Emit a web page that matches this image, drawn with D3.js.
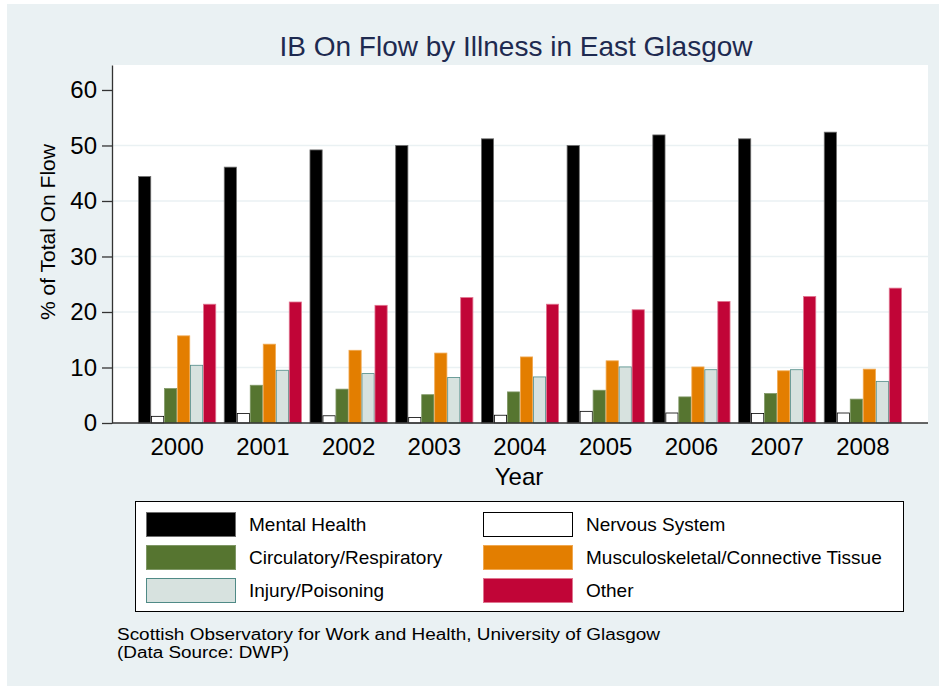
<!DOCTYPE html>
<html>
<head>
<meta charset="utf-8">
<script src="https://cdn.jsdelivr.net/npm/d3@7"></script>
<style>
  body { margin: 0; background: #fff; }
  text { font-family: Arial, "Liberation Sans", sans-serif; }
</style>
</head>
<body>
<div id="chart"></div>
<script>
// data
const years = ["2000", "2001", "2002", "2003", "2004", "2005", "2006", "2007", "2008"];
const seriesNames = ["Mental Health", "Nervous System", "Circulatory/Respiratory",
  "Musculoskeletal/Connective Tissue", "Injury/Poisoning", "Other"];
const mentalHealth   = [44.4, 46.1, 49.2, 50.0, 51.2, 50.0, 51.9, 51.2, 52.4];
const nervousSystem  = [1.2, 1.7, 1.3, 1.0, 1.4, 2.1, 1.8, 1.7, 1.8];
const circulatory    = [6.2, 6.8, 6.1, 5.1, 5.6, 5.9, 4.7, 5.3, 4.3];
const musculo        = [15.7, 14.2, 13.1, 12.6, 11.9, 11.2, 10.1, 9.4, 9.7];
const injury         = [10.4, 9.5, 8.9, 8.2, 8.3, 10.1, 9.6, 9.6, 7.5];
const other          = [21.4, 21.8, 21.2, 22.6, 21.4, 20.4, 21.9, 22.8, 24.3];
const yTicks = [0, 10, 20, 30, 40, 50, 60];

const seriesValues = [mentalHealth, nervousSystem, circulatory, musculo, injury, other];
const fills   = ["#000000", "#ffffff", "#567530", "#e37e00", "#d7e2df", "#c10537"];
const strokes = ["#6e6e6e", "#000000", "#7f9765", "#f0a850", "#4f8a86", "#e07590"];

// legend order (two columns)
const legendOrder = [0, 1, 2, 3, 4, 5];

const W = 939, H = 686;
const plot = {left: 112, right: 928, top: 65, bottom: 423};

const svg = d3.select("#chart").append("svg")
  .attr("width", W)
  .attr("height", H);

// background
svg.append("rect")
  .attr("x", 7).attr("y", 4)
  .attr("width", W - 7).attr("height", H - 4)
  .attr("fill", "#eaf1f3");

svg.append("rect")
  .attr("x", plot.left).attr("y", plot.top)
  .attr("width", plot.right - plot.left).attr("height", plot.bottom - plot.top)
  .attr("fill", "#ffffff");

const y = d3.scaleLinear()
  .domain([0, 64.5])
  .range([plot.bottom, plot.top]);

const x0 = d3.scaleBand()
  .domain(years)
  .range([plot.left, plot.right])
  .paddingInner(0.09)
  .paddingOuter(0.305);

const x1 = d3.scaleBand()
  .domain(d3.range(seriesNames.length))
  .range([0, x0.bandwidth()]);

// grid lines (not at 0 or 60)
svg.append("g")
  .selectAll("line")
  .data(yTicks.filter(t => t > 0 && t < 60))
  .join("line")
    .attr("x1", plot.left).attr("x2", plot.right)
    .attr("y1", d => y(d)).attr("y2", d => y(d))
    .attr("stroke", "#eaf1f3")
    .attr("stroke-width", 1.5);

// bars
const groups = svg.append("g")
  .selectAll("g")
  .data(years)
  .join("g")
    .attr("transform", d => `translate(${x0(d)},0)`);

groups.selectAll("rect")
  .data((yr, i) => seriesValues.map((vals, s) => ({s: s, v: vals[i]})))
  .join("rect")
    .attr("x", d => x1(d.s) + 0.4)
    .attr("width", x1.bandwidth() - 0.8)
    .attr("y", d => y(d.v))
    .attr("height", d => y(0) - y(d.v))
    .attr("fill", d => fills[d.s])
    .attr("stroke", d => strokes[d.s])
    .attr("stroke-width", 0.8);

// y axis
const yAxis = svg.append("g")
  .attr("transform", `translate(${plot.left},0)`)
  .call(d3.axisLeft(y).tickValues(yTicks).tickSize(10).tickPadding(5).tickSizeOuter(0));
yAxis.select(".domain").attr("stroke", "#333").attr("stroke-width", 1.3);
yAxis.selectAll(".tick line").attr("stroke", "#333").attr("stroke-width", 1.3);
yAxis.selectAll(".tick text")
  .attr("font-size", 24)
  .attr("font-family", "Arial, 'Liberation Sans', sans-serif")
  .attr("fill", "#000");

// baseline
svg.append("line")
  .attr("x1", plot.left).attr("x2", plot.right)
  .attr("y1", y(0)).attr("y2", y(0))
  .attr("stroke", "#333")
  .attr("stroke-width", 1.3);

// x axis labels
const xAxis = svg.append("g")
  .attr("transform", `translate(0,${plot.bottom})`)
  .call(d3.axisBottom(x0).tickSize(0).tickPadding(15));
xAxis.select(".domain").remove();
xAxis.selectAll(".tick text")
  .attr("font-size", 24)
  .attr("font-family", "Arial, 'Liberation Sans', sans-serif")
  .attr("fill", "#000");

// titles
svg.append("text")
  .attr("x", 516).attr("y", 56)
  .attr("text-anchor", "middle")
  .attr("font-size", 28)
  .attr("fill", "#1e2a50")
  .text("IB On Flow by Illness in East Glasgow");

svg.append("text")
  .attr("x", 519).attr("y", 485)
  .attr("text-anchor", "middle")
  .attr("font-size", 24)
  .text("Year");

svg.append("text")
  .attr("transform", "translate(55,232) rotate(-90)")
  .attr("text-anchor", "middle")
  .attr("font-size", 21)
  .text("% of Total On Flow");

// legend
const legend = svg.append("g");
legend.append("rect")
  .attr("x", 135.5).attr("y", 501.5)
  .attr("width", 768).attr("height", 110)
  .attr("fill", "#fff")
  .attr("stroke", "#000")
  .attr("stroke-width", 1);

const items = legend.selectAll("g.item")
  .data(legendOrder)
  .join("g")
    .attr("class", "item")
    .attr("transform", (d, i) => `translate(${i % 2 === 0 ? 146 : 483},${512 + Math.floor(i / 2) * 33})`);

items.append("rect")
  .attr("x", 0.5).attr("y", 0.5)
  .attr("width", 89).attr("height", 24)
  .attr("fill", d => fills[d])
  .attr("stroke", d => d === 1 ? "#000" : strokes[d])
  .attr("stroke-width", 1);

items.append("text")
  .attr("x", 103).attr("y", 19)
  .attr("font-size", 19)
  .text(d => seriesNames[d]);

// note
svg.append("text")
  .attr("x", 117).attr("y", 640)
  .attr("font-size", 16)
  .attr("textLength", 543)
  .attr("lengthAdjust", "spacingAndGlyphs")
  .text("Scottish Observatory for Work and Health, University of Glasgow");
svg.append("text")
  .attr("x", 117).attr("y", 658)
  .attr("font-size", 16)
  .attr("textLength", 172)
  .attr("lengthAdjust", "spacingAndGlyphs")
  .text("(Data Source: DWP)");
</script>
</body>
</html>
